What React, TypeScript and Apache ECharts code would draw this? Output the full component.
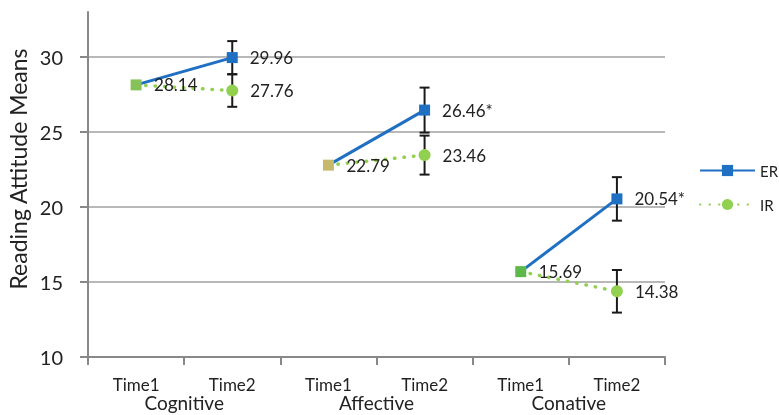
import React, { useEffect, useRef } from "react";
import * as echarts from "echarts";

const categories = ["Time1", "Time2", "Time1", "Time2", "Time1", "Time2"];
const groups = ["Cognitive", "Affective", "Conative"];
const erTime1 = [28.14, 22.79, 15.69];
const erTime2 = [29.96, 26.46, 20.54];
const irTime1 = [28.14, 22.79, 15.69];
const irTime2 = [27.76, 23.46, 14.38];
const erErr = [1.1, 1.5, 1.45];
const irErr = [1.08, 1.3, 1.42];
const erSig = ["", "*", "*"];
const yTicks = [10, 15, 20, 25, 30];
const time1MarkerColors = ["#86C25A", "#C7B86E", "#5DB84A"];

const FONT = "Lato";
const BLUE = "#1F6FC2";
const GREEN = "#92D050";

export default function App() {
  const ref = useRef<HTMLDivElement>(null);
  useEffect(() => {
    if (!ref.current) return;
    const chart = echarts.init(ref.current, null, { renderer: "svg" });
    const series: any[] = [];
    const labelBase = {
      show: true,
      position: "right",
      distance: 12,
      color: "#222",
      fontSize: 17,
      fontFamily: FONT,
    };
    groups.forEach((g, i) => {
      const er: any[] = categories.map(() => null);
      er[2 * i] = { value: erTime1[i], itemStyle: { color: time1MarkerColors[i] } };
      er[2 * i + 1] = {
        value: erTime2[i],
        label: { ...labelBase, formatter: () => erTime2[i].toFixed(2) + erSig[i] },
      };
      series.push({
        name: "ER",
        type: "line",
        data: er,
        symbol: "rect",
        symbolSize: 11,
        itemStyle: { color: BLUE },
        lineStyle: { color: BLUE, width: 3 },
        connectNulls: false,
        z: 3,
      });
      const ir: any[] = categories.map(() => null);
      ir[2 * i] = {
        value: irTime1[i],
        symbolSize: 8,
        itemStyle: { color: time1MarkerColors[i] },
        label: { ...labelBase, distance: 14, formatter: () => irTime1[i].toFixed(2) },
      };
      ir[2 * i + 1] = {
        value: irTime2[i],
        label: { ...labelBase, formatter: () => irTime2[i].toFixed(2) },
      };
      series.push({
        name: "IR",
        type: "line",
        data: ir,
        symbol: "circle",
        symbolSize: 12,
        itemStyle: { color: GREEN },
        lineStyle: { color: GREEN, width: 3.5, type: [0.5, 9], cap: "round" },
        connectNulls: false,
        z: 4,
      });
    });
    const errData: number[][] = [];
    groups.forEach((g, i) => {
      errData.push([2 * i + 1, erTime2[i] - erErr[i], erTime2[i] + erErr[i]]);
      errData.push([2 * i + 1, irTime2[i] - irErr[i], irTime2[i] + irErr[i]]);
    });
    series.push({
      type: "custom",
      name: "err",
      data: errData,
      z: 2,
      silent: true,
      encode: { x: 0, y: [1, 2] },
      renderItem: (params: any, api: any) => {
        const x = api.value(0);
        const lo = api.coord([x, api.value(1)]);
        const hi = api.coord([x, api.value(2)]);
        const w = 5;
        const st = { stroke: "#1a1a1a", lineWidth: 2 };
        return {
          type: "group",
          children: [
            { type: "line", shape: { x1: lo[0], y1: lo[1], x2: hi[0], y2: hi[1] }, style: st },
            { type: "line", shape: { x1: lo[0] - w, y1: lo[1], x2: lo[0] + w, y2: lo[1] }, style: st },
            { type: "line", shape: { x1: hi[0] - w, y1: hi[1], x2: hi[0] + w, y2: hi[1] }, style: st },
          ],
        };
      },
    });

    chart.setOption({
      animation: false,
      grid: { left: 88, right: 114, top: 12, bottom: 58, containLabel: false },
      legend: {
        data: ["ER", "IR"],
        orient: "vertical",
        left: 699,
        top: 163,
        itemWidth: 55,
        itemHeight: 14,
        itemGap: 19,
        padding: 0,
        textStyle: { fontSize: 15, color: "#222", fontFamily: FONT },
      },
      xAxis: [
        {
          type: "category",
          data: categories,
          position: "bottom",
          axisLine: { lineStyle: { color: "#888", width: 2 } },
          axisTick: { show: true, length: 8, lineStyle: { color: "#888", width: 2 } },
          axisLabel: { margin: 19, fontSize: 17, lineHeight: 17, color: "#222", fontFamily: FONT },
          splitLine: { show: false },
        },
        {
          type: "category",
          data: groups,
          position: "bottom",
          axisLine: { show: false },
          axisTick: { show: false },
          axisLabel: { margin: 36, fontSize: 19, lineHeight: 19, color: "#222", fontFamily: FONT },
          splitLine: { show: false },
        },
      ],
      yAxis: {
        type: "value",
        min: 10,
        max: 33,
        interval: 5,
        axisLine: { show: true, lineStyle: { color: "#888", width: 2 } },
        axisTick: { show: true, length: 8, customValues: yTicks, lineStyle: { color: "#888", width: 2 } },
        axisLabel: {
          margin: 25,
          fontSize: 20,
          color: "#222",
          fontFamily: FONT,
          customValues: yTicks,
        },
        splitLine: { show: true, lineStyle: { color: "#A0A0A0", width: 1.5 } },
      },
      graphic: [
        {
          type: "text",
          x: 18,
          y: 169,
          rotation: Math.PI / 2,
          style: {
            text: "Reading Attitude Means",
            fontSize: 23,
            fontFamily: FONT,
            fill: "#222",
            textAlign: "center",
            textVerticalAlign: "middle",
          },
        },
      ],
      series,
    });
    return () => chart.dispose();
  }, []);
  return (
    <div
      ref={ref}
      style={{ width: 779, height: 415, position: "fixed", left: 0, top: 0 }}
    />
  );
}
